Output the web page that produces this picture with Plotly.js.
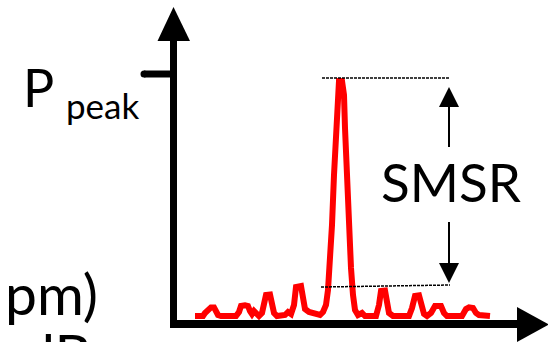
<!DOCTYPE html>
<html>
<head>
<meta charset="utf-8">
<script src="https://cdn.plot.ly/plotly-3.0.1.min.js"></script>
<style>html,body{margin:0;padding:0;background:#fff;}#chart{width:548px;height:342px;}</style>
</head>
<body>
<div id="chart"></div>
<script>
// Optical spectrum (wavelength in nm, power in dB relative to peak)
const wavelength = [1535.4,1536.2,1536.4,1536.7,1537.0,1537.3,1537.5,1537.7,1538.0,1539.5,1539.8,1540.0,1540.4,1540.7,1540.9,1541.1,1541.3,1541.5,1541.8,1542.1,1542.3,1542.5,1542.9,1543.1,1543.3,1543.6,1544.4,1544.7,1545.0,1545.3,1545.5,1546.0,1546.2,1546.4,1546.8,1547.5,1547.9,1548.2,1548.5,1548.7,1548.9,1549.1,1549.3,1549.5,1549.6,1549.8,1550.1,1550.3,1550.4,1550.6,1550.8,1551.0,1551.2,1551.4,1551.7,1552.1,1552.4,1553.5,1553.8,1554.0,1554.4,1554.6,1554.8,1555.2,1556.8,1557.1,1557.4,1557.8,1558.0,1558.3,1558.6,1559.0,1559.4,1559.7,1560.0,1560.3,1560.6,1562.1,1562.5,1562.8,1563.2,1563.5,1563.8,1564.9];
const power = [-58.75,-58.75,-58.0,-57.25,-56.6,-56.6,-57.5,-58.5,-58.75,-58.75,-57.75,-56.25,-56.1,-56.25,-57.5,-58.25,-57.5,-58.0,-58.75,-58.0,-56.0,-53.5,-53.4,-56.0,-58.0,-58.75,-58.5,-57.75,-58.25,-56.0,-51.5,-51.25,-54.75,-57.0,-57.75,-58.0,-58.5,-57.75,-56.0,-52.25,-45.25,-36.0,-23.5,-13.5,-4.75,0,0,-3.5,-11.75,-24.75,-36.75,-46.75,-53.5,-57.25,-58.5,-58.0,-58.75,-58.75,-56.0,-52.5,-52.4,-56.0,-58.0,-58.75,-58.75,-56.75,-53.75,-53.6,-56.25,-58.25,-58.75,-58.0,-56.25,-56.1,-56.25,-58.0,-58.75,-58.75,-57.0,-56.6,-56.75,-58.0,-58.5,-58.75];
const peakLevel = 0.75;      // dashed reference at peak
const sideModeLevel = -51.5; // dashed reference at strongest side mode
const labelP = "P";
const labelPeak = "peak";
const labelSMSR = "SMSR";
const labelX = "pm)";
const labelY = "dB";

const W = 548, H = 342;
const px = v => v / W;
const py = v => 1 - v / H;

const trace = {
  x: wavelength, y: power, type: 'scatter', mode: 'lines',
  line: {color: '#ff0000', width: 6, shape: 'linear'},
  hoverinfo: 'skip'
};

function line(x0, y0, x1, y1, w, dash) {
  return {type: 'line', xref: 'paper', yref: 'paper', x0: px(x0), y0: py(y0), x1: px(x1), y1: py(y1),
          line: {color: '#000', width: w, dash: dash || 'solid'}};
}
function tri(points) {
  const d = 'M ' + points.map(p => px(p[0]) + ',' + py(p[1])).join(' L ') + ' Z';
  return {type: 'path', xref: 'paper', yref: 'paper', path: d, fillcolor: '#000', line: {color: '#000', width: 0}};
}

const shapes = [
  line(173.5, 41, 173.5, 327.5, 7),
  line(170, 324, 518, 324, 8),
  line(144, 74, 173.5, 74, 7),
  {type: 'circle', xref: 'paper', yref: 'paper', x0: px(140.5), x1: px(147.5), y0: py(70.5), y1: py(77.5), fillcolor: '#000', line: {width: 0}},
  tri([[157.5, 41], [190, 41], [173.5, 7]]),
  tri([[517, 307], [517, 342], [549, 324.5]]),
  // SMSR arrows
  line(449, 106, 449, 147, 2),
  tri([[439, 107], [459, 107], [449, 87]]),
  line(449, 222, 449, 264, 2),
  tri([[439, 263], [459, 263], [449, 283]]),
  // dashed reference lines (data y, paper x)
  {type: 'line', xref: 'paper', yref: 'y', x0: px(322), x1: px(450), y0: peakLevel, y1: peakLevel,
   line: {color: '#000', width: 1.5, dash: '3px,1px'}},
  {type: 'line', xref: 'paper', yref: 'y', x0: px(321), x1: px(450), y0: sideModeLevel, y1: sideModeLevel + 0.5,
   line: {color: '#000', width: 1.5, dash: '3px,1px'}}
];

const font = 'Lato, "Open Sans", sans-serif';
const annotations = [
  {text: labelP, xref: 'paper', yref: 'paper', x: px(21), y: py(87), xanchor: 'left', yanchor: 'middle', showarrow: false, font: {family: font, size: 52, color: '#000'}},
  {text: labelPeak, xref: 'paper', yref: 'paper', x: px(64), y: py(105), xanchor: 'left', yanchor: 'middle', showarrow: false, font: {family: font, size: 35, color: '#000'}},
  {text: labelSMSR, xref: 'paper', yref: 'paper', x: px(451), y: py(181), xanchor: 'center', yanchor: 'middle', showarrow: false, font: {family: font, size: 53, color: '#000'}},
  {text: labelX, xref: 'paper', yref: 'paper', x: px(100), y: py(293), xanchor: 'right', yanchor: 'middle', showarrow: false, font: {family: font, size: 57, color: '#000'}},
  {text: labelY, xref: 'paper', yref: 'paper', x: px(93), y: py(353), xanchor: 'right', yanchor: 'middle', showarrow: false, font: {family: font, size: 57, color: '#000'}}
];

const layout = {
  width: W, height: H,
  margin: {l: 0, r: 0, t: 0, b: 0, pad: 0},
  paper_bgcolor: '#fff', plot_bgcolor: '#fff',
  showlegend: false,
  xaxis: {range: [1515.9, 1570.7], visible: false, fixedrange: true},
  yaxis: {range: [-65.25, 20.25], visible: false, fixedrange: true},
  shapes: shapes,
  annotations: annotations
};

Plotly.newPlot('chart', [trace], layout, {staticPlot: true, displayModeBar: false});
</script>
</body>
</html>
